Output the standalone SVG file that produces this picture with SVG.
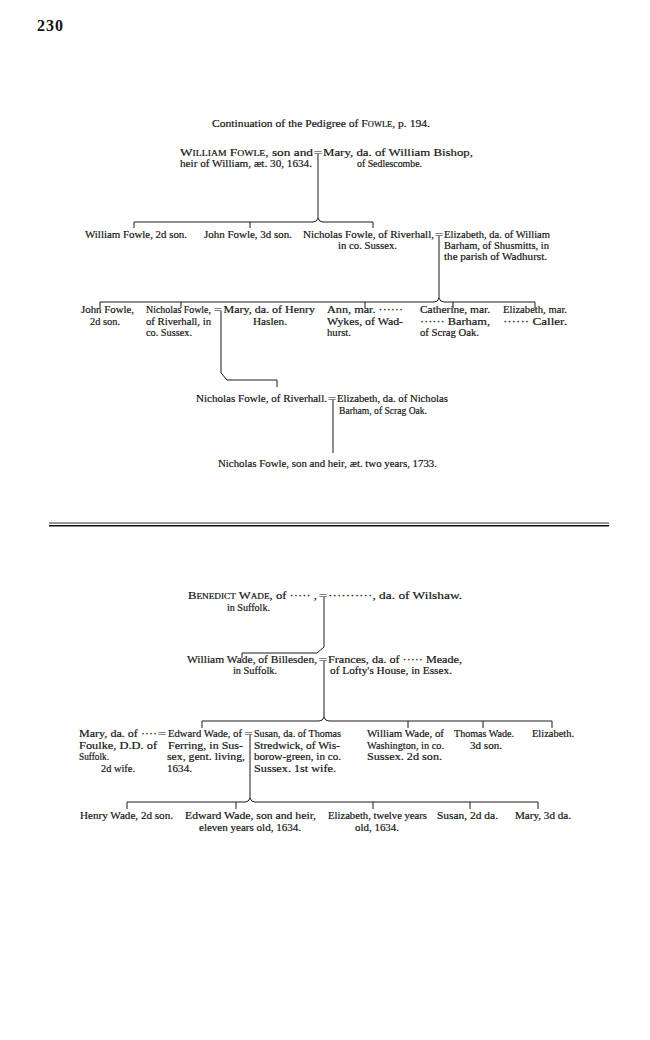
<svg xmlns="http://www.w3.org/2000/svg" width="650" height="1040" viewBox="0 0 650 1040">
<style>
.t{font-family:"Liberation Serif","Times New Roman",serif;font-size:11px;fill:#151515;stroke:#151515;stroke-width:0.2}
.sc{font-variant:small-caps}
.eq{font-family:"Liberation Serif","Times New Roman",serif;font-size:11px;fill:#151515}
.ln{fill:none;stroke:#1a1a1a;stroke-width:1}
.pg{font-family:"Liberation Serif","Times New Roman",serif;font-size:16px;font-weight:bold;fill:#111}
</style>
<rect width="650" height="1040" fill="#ffffff"/>
<text class="pg" x="37" y="31" textLength="26">230</text>
<g id="title"><text class="t" x="212" y="127" textLength="218" lengthAdjust="spacingAndGlyphs">Continuation of the Pedigree of <tspan class="sc">Fowle</tspan>, p. 194.</text></g>

<g id="connectors">
<path class="ln" d="M318,154 V218"/>
<path class="ln" d="M134,228 V222 H313 Q317,222 318,218 Q319,222 323,222 H373 V228 M250,222 V228"/>
<path class="ln" d="M439,236 V298"/>
<path class="ln" d="M100,308 V302 H434 Q438,302 439,298 Q440,302 444,302 H535 V308 M181,302 V308 M365,302 V308 M453,302 V308"/>
<path class="ln" d="M221,311 V373 L227,380 H277 V387"/>
<path class="ln" d="M333,400 V453"/>
<path class="ln" d="M324,597 V647 L317,653 H242 V658"/>
<path class="ln" d="M324,661 V717"/>
<path class="ln" d="M202,728 V721 H319 Q323,721 324,717 Q325,721 329,721 H552 V728 M408,721 V728 M483,721 V728"/>
<path class="ln" d="M250,735 V798"/>
<path class="ln" d="M127,809 V802 H245 Q249,802 250,798 Q251,802 255,802 H538 V809 M236,802 V809 M373,802 V809 M470,802 V809"/>
<text class="eq" x="313.5" y="156" textLength="9" lengthAdjust="spacingAndGlyphs">=</text>
<text class="eq" x="434.5" y="238" textLength="9" lengthAdjust="spacingAndGlyphs">=</text>
<text class="eq" x="213.5" y="313" textLength="8.5" lengthAdjust="spacingAndGlyphs">=</text>
<text class="eq" x="327.5" y="402" textLength="9" lengthAdjust="spacingAndGlyphs">=</text>
<text class="eq" x="318.5" y="599" textLength="9" lengthAdjust="spacingAndGlyphs">=</text>
<text class="eq" x="318.5" y="663" textLength="9" lengthAdjust="spacingAndGlyphs">=</text>
<text class="eq" x="157.5" y="737" textLength="9" lengthAdjust="spacingAndGlyphs">=</text>
<text class="eq" x="244" y="737" textLength="9" lengthAdjust="spacingAndGlyphs">=</text>
</g>

<g id="divider">
<line x1="49" y1="523" x2="609" y2="523" stroke="#333" stroke-width="1"/>
<line x1="49" y1="525.8" x2="609" y2="525.8" stroke="#111" stroke-width="1.6"/>
</g>

<g id="william-fowle">
<text class="t" x="180" y="156" textLength="133" lengthAdjust="spacingAndGlyphs"><tspan class="sc">William Fowle</tspan>, son and</text>
<text class="t" x="180" y="167" textLength="132" lengthAdjust="spacingAndGlyphs">heir of William, æt. 30, 1634.</text>
</g>
<g id="mary-bishop">
<text class="t" x="323" y="156" textLength="150" lengthAdjust="spacingAndGlyphs">Mary, da. of William Bishop,</text>
<text class="t" x="357" y="167" textLength="65" lengthAdjust="spacingAndGlyphs">of Sedlescombe.</text>
</g>

<g id="william-2d"><text class="t" x="85" y="238" textLength="102" lengthAdjust="spacingAndGlyphs">William Fowle, 2d son.</text></g>
<g id="john-3d"><text class="t" x="204" y="238" textLength="88" lengthAdjust="spacingAndGlyphs">John Fowle, 3d son.</text></g>
<g id="nicholas-1">
<text class="t" x="303" y="238" textLength="131" lengthAdjust="spacingAndGlyphs">Nicholas Fowle, of Riverhall,</text>
<text class="t" x="338" y="249" textLength="59" lengthAdjust="spacingAndGlyphs">in co. Sussex.</text>
</g>
<g id="elizabeth-barham-1">
<text class="t" x="444" y="238" textLength="106" lengthAdjust="spacingAndGlyphs">Elizabeth, da. of William</text>
<text class="t" x="444" y="249" textLength="105" lengthAdjust="spacingAndGlyphs">Barham, of Shusmitts, in</text>
<text class="t" x="444" y="260" textLength="103" lengthAdjust="spacingAndGlyphs">the parish of Wadhurst.</text>
</g>

<g id="john-2d">
<text class="t" x="81" y="313" textLength="53" lengthAdjust="spacingAndGlyphs">John Fowle,</text>
<text class="t" x="90" y="324.5" textLength="30" lengthAdjust="spacingAndGlyphs">2d son.</text>
</g>
<g id="nicholas-2">
<text class="t" x="146" y="313" textLength="65" lengthAdjust="spacingAndGlyphs" style="font-size:10px">Nicholas Fowle,</text>
<text class="t" x="146" y="324.5" textLength="65" lengthAdjust="spacingAndGlyphs">of Riverhall, in</text>
<text class="t" x="146" y="336" textLength="46" lengthAdjust="spacingAndGlyphs">co. Sussex.</text>
</g>
<g id="mary-haslen">
<text class="t" x="223.5" y="313" textLength="91.5" lengthAdjust="spacingAndGlyphs">Mary, da. of Henry</text>
<text class="t" x="253" y="324.5" textLength="34" lengthAdjust="spacingAndGlyphs">Haslen.</text>
</g>
<g id="ann">
<text class="t" x="327" y="313" textLength="76" lengthAdjust="spacingAndGlyphs">Ann, mar. ······</text>
<text class="t" x="327" y="324.5" textLength="76" lengthAdjust="spacingAndGlyphs">Wykes, of Wad-</text>
<text class="t" x="327" y="336" textLength="24" lengthAdjust="spacingAndGlyphs">hurst.</text>
</g>
<g id="catherine">
<text class="t" x="420" y="313" textLength="70" lengthAdjust="spacingAndGlyphs">Catherine, mar.</text>
<text class="t" x="420" y="324.5" textLength="70" lengthAdjust="spacingAndGlyphs">······ Barham,</text>
<text class="t" x="420" y="336" textLength="59" lengthAdjust="spacingAndGlyphs">of Scrag Oak.</text>
</g>
<g id="elizabeth-caller">
<text class="t" x="503" y="313" textLength="64" lengthAdjust="spacingAndGlyphs">Elizabeth, mar.</text>
<text class="t" x="503" y="324.5" textLength="64" lengthAdjust="spacingAndGlyphs">······ Caller.</text>
</g>

<g id="nicholas-3"><text class="t" x="196" y="402" textLength="131" lengthAdjust="spacingAndGlyphs">Nicholas Fowle, of Riverhall.</text></g>
<g id="elizabeth-barham-2">
<text class="t" x="337" y="402" textLength="111" lengthAdjust="spacingAndGlyphs">Elizabeth, da. of Nicholas</text>
<text class="t" x="339" y="413.5" textLength="88" lengthAdjust="spacingAndGlyphs">Barham, of Scrag Oak.</text>
</g>
<g id="nicholas-4"><text class="t" x="218" y="467" textLength="219" lengthAdjust="spacingAndGlyphs">Nicholas Fowle, son and heir, æt. two years, 1733.</text></g>

<g id="benedict-wade">
<text class="t" x="188" y="599" textLength="129" lengthAdjust="spacingAndGlyphs"><tspan class="sc">Benedict Wade</tspan>, of ····· ,</text>
<text class="t" x="227" y="610.5" textLength="43" lengthAdjust="spacingAndGlyphs">in Suffolk.</text>
</g>
<g id="wilshaw"><text class="t" x="328" y="599" textLength="134" lengthAdjust="spacingAndGlyphs">··········, da. of Wilshaw.</text></g>

<g id="william-wade">
<text class="t" x="187" y="663" textLength="130" lengthAdjust="spacingAndGlyphs">William Wade, of Billesden,</text>
<text class="t" x="233" y="674" textLength="44" lengthAdjust="spacingAndGlyphs">in Suffolk.</text>
</g>
<g id="frances-meade">
<text class="t" x="328" y="663" textLength="134" lengthAdjust="spacingAndGlyphs">Frances, da. of  ····· Meade,</text>
<text class="t" x="330" y="674" textLength="122" lengthAdjust="spacingAndGlyphs">of Lofty's House, in Essex.</text>
</g>

<g id="mary-foulke">
<text class="t" x="79" y="737" textLength="78" lengthAdjust="spacingAndGlyphs">Mary, da. of ····</text>
<text class="t" x="79" y="748.7" textLength="78" lengthAdjust="spacingAndGlyphs">Foulke, D.D. of</text>
<text class="t" x="79" y="760.4" textLength="30" lengthAdjust="spacingAndGlyphs">Suffolk.</text>
<text class="t" x="101" y="772" textLength="34" lengthAdjust="spacingAndGlyphs">2d wife.</text>
</g>
<g id="edward-wade">
<text class="t" x="168" y="737" textLength="74" lengthAdjust="spacingAndGlyphs">Edward Wade, of</text>
<text class="t" x="168" y="748.7" textLength="75" lengthAdjust="spacingAndGlyphs">Ferring, in Sus-</text>
<text class="t" x="167" y="760.4" textLength="78" lengthAdjust="spacingAndGlyphs">sex, gent. living,</text>
<text class="t" x="167" y="772" textLength="25" lengthAdjust="spacingAndGlyphs">1634.</text>
</g>
<g id="susan-stredwick">
<text class="t" x="254" y="737" textLength="87" lengthAdjust="spacingAndGlyphs">Susan, da. of Thomas</text>
<text class="t" x="254" y="748.7" textLength="86" lengthAdjust="spacingAndGlyphs">Stredwick, of Wis-</text>
<text class="t" x="254" y="760.4" textLength="87" lengthAdjust="spacingAndGlyphs">borow-green, in co.</text>
<text class="t" x="254" y="772" textLength="82" lengthAdjust="spacingAndGlyphs">Sussex.   1st wife.</text>
</g>
<g id="william-wade-2">
<text class="t" x="367" y="737" textLength="77" lengthAdjust="spacingAndGlyphs">William Wade, of</text>
<text class="t" x="367" y="748.7" textLength="77" lengthAdjust="spacingAndGlyphs">Washington, in co.</text>
<text class="t" x="367" y="760.4" textLength="75" lengthAdjust="spacingAndGlyphs">Sussex.   2d son.</text>
</g>
<g id="thomas-wade">
<text class="t" x="454" y="737" textLength="60" lengthAdjust="spacingAndGlyphs">Thomas Wade.</text>
<text class="t" x="470" y="748.7" textLength="32" lengthAdjust="spacingAndGlyphs">3d son.</text>
</g>
<g id="elizabeth-wade"><text class="t" x="532" y="737" textLength="42" lengthAdjust="spacingAndGlyphs">Elizabeth.</text></g>

<g id="henry-wade"><text class="t" x="80" y="819" textLength="93" lengthAdjust="spacingAndGlyphs">Henry Wade, 2d son.</text></g>
<g id="edward-wade-2">
<text class="t" x="185" y="819" textLength="131" lengthAdjust="spacingAndGlyphs">Edward Wade, son and heir,</text>
<text class="t" x="199" y="831" textLength="102" lengthAdjust="spacingAndGlyphs">eleven years old, 1634.</text>
</g>
<g id="elizabeth-wade-2">
<text class="t" x="328" y="819" textLength="99" lengthAdjust="spacingAndGlyphs">Elizabeth, twelve years</text>
<text class="t" x="355" y="831" textLength="44" lengthAdjust="spacingAndGlyphs">old, 1634.</text>
</g>
<g id="susan-wade"><text class="t" x="437" y="819" textLength="61" lengthAdjust="spacingAndGlyphs">Susan, 2d da.</text></g>
<g id="mary-wade"><text class="t" x="515" y="819" textLength="56" lengthAdjust="spacingAndGlyphs">Mary, 3d da.</text></g>
</svg>
